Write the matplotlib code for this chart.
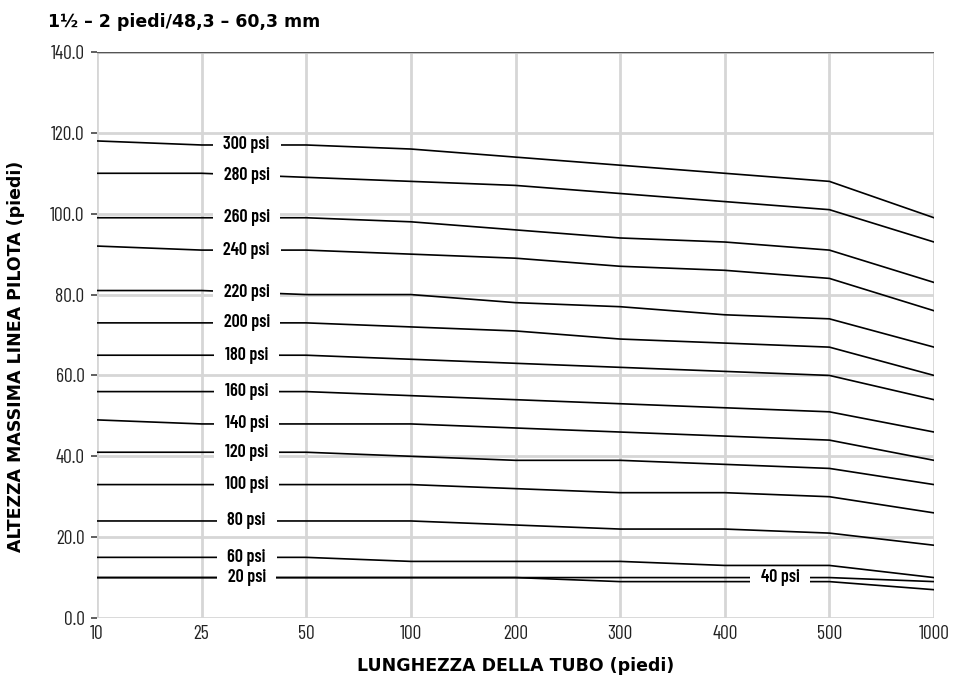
import numpy as np
import matplotlib
matplotlib.use("Agg")
import matplotlib.pyplot as plt

# pipe lengths (feet) - plotted as evenly spaced categories
lengths = ["10", "25", "50", "100", "200", "300", "400", "500", "1000"]

# max pilot line height (feet) for each supply pressure
psi_300 = [118, 117, 117, 116, 114, 112, 110, 108, 99]
psi_280 = [110, 110, 109, 108, 107, 105, 103, 101, 93]
psi_260 = [99, 99, 99, 98, 96, 94, 93, 91, 83]
psi_240 = [92, 91, 91, 90, 89, 87, 86, 84, 76]
psi_220 = [81, 81, 80, 80, 78, 77, 75, 74, 67]
psi_200 = [73, 73, 73, 72, 71, 69, 68, 67, 60]
psi_180 = [65, 65, 65, 64, 63, 62, 61, 60, 54]
psi_160 = [56, 56, 56, 55, 54, 53, 52, 51, 46]
psi_140 = [49, 48, 48, 48, 47, 46, 45, 44, 39]
psi_120 = [41, 41, 41, 40, 39, 39, 38, 37, 33]
psi_100 = [33, 33, 33, 33, 32, 31, 31, 30, 26]
psi_80 = [24, 24, 24, 24, 23, 22, 22, 21, 18]
psi_60 = [15, 15, 15, 14, 14, 14, 13, 13, 10]
psi_40 = [10, 10, 10, 10, 10, 10, 10, 10, 9]
psi_20 = [10, 10, 10, 10, 10, 9, 9, 9, 7]

series = [
    ("300 psi", psi_300), ("280 psi", psi_280), ("260 psi", psi_260),
    ("240 psi", psi_240), ("220 psi", psi_220), ("200 psi", psi_200),
    ("180 psi", psi_180), ("160 psi", psi_160), ("140 psi", psi_140),
    ("120 psi", psi_120), ("100 psi", psi_100), ("80 psi", psi_80),
    ("60 psi", psi_60), ("40 psi", psi_40), ("20 psi", psi_20),
]

narrow = ["Barlow Condensed", "DejaVu Sans"]
heavy = ["DejaVu Sans"]

fig = plt.figure(figsize=(9.69, 6.80), dpi=100)
ax = fig.add_axes([97 / 969, 1 - 618 / 680, (934 - 97) / 969, (618 - 52) / 680])

x = np.arange(len(lengths))
for name, vals in series:
    ax.plot(x, vals, color="black", lw=1.2, zorder=3)
    # label sits on the line, the 40 psi one further right where it splits off
    lx = 6.53 if name == "40 psi" else 1.43
    ly = np.interp(lx, x, vals)
    # en spaces widen the white box sideways without making it taller
    ax.text(lx, ly, "\u2002" + name + "\u2002", ha="center", va="center",
            fontsize=13, family=narrow, fontweight=600, zorder=4,
            bbox=dict(boxstyle="square,pad=0.1", fc="white", ec="none"))

ax.set_xlim(0, len(lengths) - 1)
ax.set_ylim(0, 140)
ax.set_xticks(x)
ax.set_xticklabels(lengths)
ax.set_yticks(np.arange(0, 141, 20))
ax.set_yticklabels([f"{v:.1f}" for v in range(0, 141, 20)])

ax.grid(True, color="#d6d6d6", lw=2.0, zorder=0)
ax.set_axisbelow(True)
for s in ["top", "right", "left", "bottom"]:
    ax.spines[s].set_visible(False)
ax.axhline(140, color="#555555", lw=1.0, zorder=1)

ax.tick_params(axis="x", length=0, pad=5, labelsize=14)
ax.tick_params(axis="y", length=4, width=1.2, color="#444444", pad=5, labelsize=14)
for lab in ax.get_xticklabels() + ax.get_yticklabels():
    lab.set_family(narrow)
    lab.set_color("#222222")

ax.set_xlabel("LUNGHEZZA DELLA TUBO (piedi)", fontsize=12.5, family=heavy,
              fontweight="bold", labelpad=10)
ax.set_ylabel("ALTEZZA MASSIMA LINEA PILOTA (piedi)", fontsize=12.5, family=heavy,
              fontweight="bold")
ax.yaxis.set_label_coords(-0.086, 0.462)

fig.text(48 / 969, 1 - 22 / 680, "1½ – 2 piedi/48,3 – 60,3 mm", fontsize=12.5,
         fontweight="bold", family=heavy, va="center", ha="left")

fig.savefig("out.png", dpi=100)
